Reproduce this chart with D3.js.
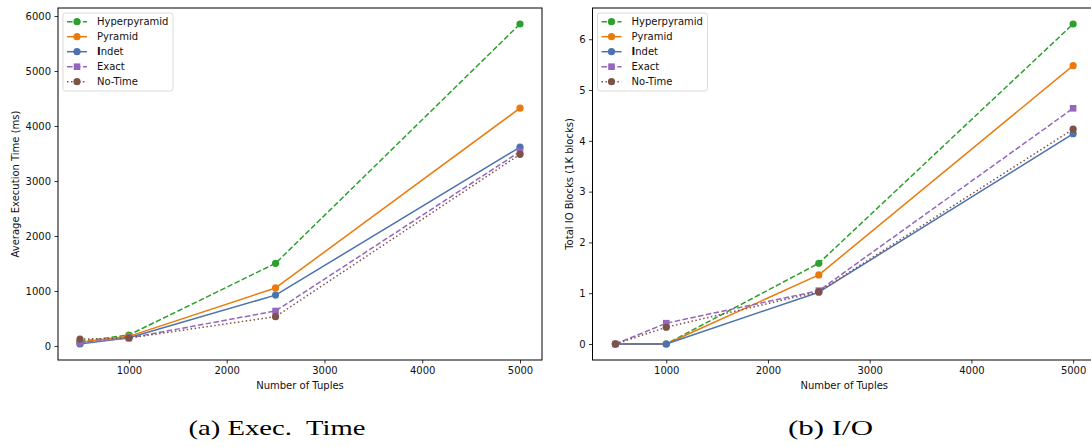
<!DOCTYPE html>
<html>
<head>
<meta charset="utf-8">
<script src="https://cdn.jsdelivr.net/npm/d3@7"></script>
<style>
  html, body { margin: 0; padding: 0; background: #fff; }
  svg { display: block; }
  text { font-family: "DejaVu Sans", sans-serif; fill: #111; }
  text.caption { font-family: "Liberation Serif", serif; fill: #000; }
</style>
</head>
<body>
<svg id="fig" width="1091" height="447"></svg>
<script>
// Tuple counts on the x axis
const tuples = [500, 1000, 2500, 5000];

// Average execution time (ms)
const timeHyperpyramid = [80, 200, 1503, 5855];
const timePyramid      = [70, 175, 1055, 4325];
const timeIndet        = [36, 150, 925, 3615];
const timeExact        = [60, 145, 636, 3535];
const timeNoTime       = [125, 145, 533, 3485];

// Total IO blocks (1K blocks)
const ioHyperpyramid = [0, 0, 1.59, 6.30];
const ioPyramid      = [0, 0, 1.36, 5.48];
const ioIndet        = [0, 0, 1.02, 4.14];
const ioExact        = [0, 0.41, 1.05, 4.64];
const ioNoTime       = [0, 0.33, 1.03, 4.23];

const xTicks = [1000, 2000, 3000, 4000, 5000];
const timeTicks = [0, 1000, 2000, 3000, 4000, 5000, 6000];
const ioTicks = [0, 1, 2, 3, 4, 5, 6];

const seriesNames = ["Hyperpyramid", "Pyramid", "Indet", "Exact", "No-Time"];

const styles = {
  "Hyperpyramid": { color: "#2ca02c", dash: "5.55,2.4", marker: "circle" },
  "Pyramid":      { color: "#ea7a0c", dash: null,       marker: "circle" },
  "Indet":        { color: "#4c72b0", dash: null,       marker: "circle" },
  "Exact":        { color: "#9467bd", dash: "5.55,2.4", marker: "square" },
  "No-Time":      { color: "#7f5248", dash: "1.5,2.475", marker: "circle" }
};

const svg = d3.select("#fig");

function padded([lo, hi]) {
  const m = (hi - lo) * 0.05;
  return [lo - m, hi + m];
}

function drawPanel(opts) {
  const { left, right, top, bottom, series, yTicks, yLabel, yLabelX, caption, captionX, captionLen } = opts;
  const g = svg.append("g");

  const allY = series.flatMap(s => s.values);
  const x = d3.scaleLinear().domain(padded(d3.extent(tuples))).range([left, right]);
  const y = d3.scaleLinear().domain(padded(d3.extent(allY))).range([bottom, top]);

  // lines and markers, in plotting order
  series.forEach(s => {
    const st = styles[s.name];
    const pts = tuples.map((t, i) => [t, s.values[i]]);
    g.append("path")
      .attr("d", d3.line().x(d => x(d[0])).y(d => y(d[1]))(pts))
      .attr("fill", "none")
      .attr("stroke", st.color)
      .attr("stroke-width", 1.5)
      .attr("stroke-linecap", st.dash ? "butt" : "square")
      .attr("stroke-linejoin", "round")
      .attr("stroke-dasharray", st.dash);
    pts.forEach(p => drawMarker(g, st, x(p[0]), y(p[1])));
  });

  // spines
  g.append("rect")
    .attr("x", left).attr("y", top)
    .attr("width", right - left).attr("height", bottom - top)
    .attr("fill", "none").attr("stroke", "#000").attr("stroke-width", 1);

  // x axis
  const xa = g.append("g").attr("transform", `translate(0,${bottom})`)
    .call(d3.axisBottom(x).tickValues(xTicks).tickSize(3.5).tickPadding(3.5).tickFormat(d3.format("d")));
  xa.select(".domain").remove();
  xa.selectAll("line").attr("stroke", "#000").attr("stroke-width", 0.8);
  xa.selectAll("text").attr("font-size", 10);

  // y axis
  const ya = g.append("g").attr("transform", `translate(${left},0)`)
    .call(d3.axisLeft(y).tickValues(yTicks).tickSize(3.5).tickPadding(3.5).tickFormat(d3.format("d")));
  ya.select(".domain").remove();
  ya.selectAll("line").attr("stroke", "#000").attr("stroke-width", 0.8);
  ya.selectAll("text").attr("font-size", 10);

  // axis labels
  g.append("text")
    .attr("x", (left + right) / 2).attr("y", 389)
    .attr("text-anchor", "middle").attr("font-size", 10)
    .text("Number of Tuples");
  g.append("text")
    .attr("transform", `translate(${yLabelX},${(top + bottom) / 2}) rotate(-90)`)
    .attr("text-anchor", "middle").attr("font-size", 10)
    .text(yLabel);

  // legend
  const lg = g.append("g").attr("transform", `translate(${left + 5},${top + 5})`);
  lg.append("rect")
    .attr("x", 0).attr("y", 0).attr("width", 110).attr("height", 78)
    .attr("rx", 2.5)
    .attr("fill", "#fff").attr("fill-opacity", 0.8)
    .attr("stroke", "#d0d0d0").attr("stroke-width", 0.8);
  seriesNames.forEach((name, i) => {
    const st = styles[name];
    const cy = 8.7 + i * 15;
    lg.append("line")
      .attr("x1", 4).attr("x2", 24).attr("y1", cy).attr("y2", cy)
      .attr("stroke", st.color).attr("stroke-width", 1.5)
      .attr("stroke-dasharray", st.dash);
    drawMarker(lg, st, 14, cy);
    const t = lg.append("text").attr("x", 34).attr("y", cy + 3.6).attr("font-size", 10);
    if (name === "Indet") {
      t.append("tspan").attr("font-weight", "bold").text("I");
      t.append("tspan").text("ndet");
    } else {
      t.text(name);
    }
  });

  // sub-figure caption
  svg.append("text")
    .attr("class", "caption")
    .attr("x", captionX).attr("y", 434.5)
    .attr("font-size", 21)
    .attr("textLength", captionLen)
    .attr("lengthAdjust", "spacingAndGlyphs")
    .text(caption);
}

function drawMarker(g, st, cx, cy) {
  if (st.marker === "square") {
    g.append("rect")
      .attr("x", cx - 3.3).attr("y", cy - 3.3).attr("width", 6.6).attr("height", 6.6)
      .attr("fill", st.color);
  } else {
    g.append("circle").attr("cx", cx).attr("cy", cy).attr("r", 3.6).attr("fill", st.color);
  }
}

drawPanel({
  left: 58, right: 542, top: 8, bottom: 360,
  series: [
    { name: "Hyperpyramid", values: timeHyperpyramid },
    { name: "Pyramid", values: timePyramid },
    { name: "Indet", values: timeIndet },
    { name: "Exact", values: timeExact },
    { name: "No-Time", values: timeNoTime }
  ],
  yTicks: timeTicks,
  yLabel: "Average Execution Time (ms)",
  yLabelX: 19,
  caption: "(a) Exec.\u2002Time",
  captionX: 188.5, captionLen: 177
});

drawPanel({
  left: 592.5, right: 1096, top: 8, bottom: 360,
  series: [
    { name: "Hyperpyramid", values: ioHyperpyramid },
    { name: "Pyramid", values: ioPyramid },
    { name: "Indet", values: ioIndet },
    { name: "Exact", values: ioExact },
    { name: "No-Time", values: ioNoTime }
  ],
  yTicks: ioTicks,
  yLabel: "Total IO Blocks (1K blocks)",
  yLabelX: 573,
  caption: "(b) I/O",
  captionX: 788, captionLen: 85
});
</script>
</body>
</html>
